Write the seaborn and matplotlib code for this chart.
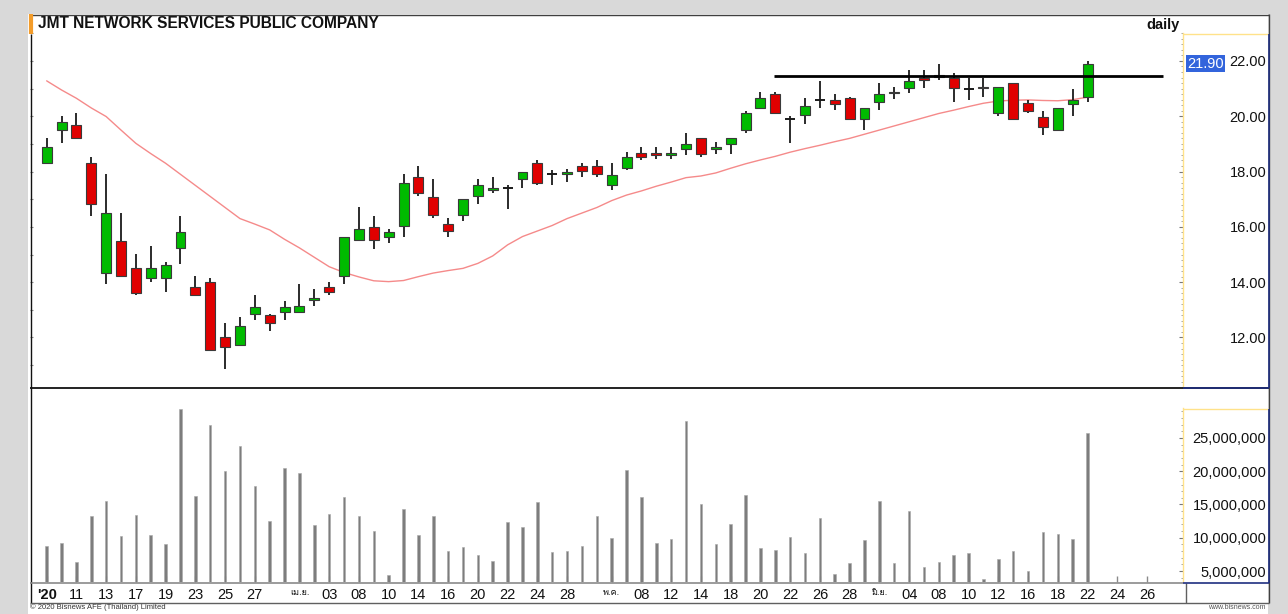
import numpy as np
import pandas as pd
import matplotlib
matplotlib.use("Agg")
import matplotlib.pyplot as plt
import seaborn as sns
from matplotlib.patches import Rectangle
from matplotlib.lines import Line2D
from matplotlib import font_manager as fm
from matplotlib import transforms
from matplotlib.ticker import FixedLocator, MultipleLocator, FuncFormatter, NullFormatter

# ---------------- data ----------------
opens = [18.30, 19.50, 19.70, 18.30, 14.34, 15.50, 14.52, 14.16, 14.16, 15.24,
         13.82, 14.02, 12.03, 11.73, 12.84, 12.81, 12.93, 12.93, 13.36, 13.82,
         14.24, 15.52, 16.01, 15.62, 16.03, 17.82, 17.09, 16.11, 16.43, 17.13,
         17.34, 17.40, 17.72, 18.30, 17.91, 17.91, 18.20, 18.20, 17.53, 18.14,
         18.68, 18.68, 18.61, 18.82, 19.20, 18.82, 19.01, 19.50, 20.31, 20.81,
         19.89, 20.04, 20.59, 20.59, 20.67, 19.90, 20.53, 20.83, 21.01, 21.37,
         21.48, 21.37, 20.98, 21.07, 20.11, 21.19, 20.49, 19.99, 19.50, 20.43,
         20.69]
highs = [19.20, 20.00, 20.10, 18.52, 17.90, 16.50, 15.02, 15.32, 14.72, 16.41,
         14.24, 14.14, 12.54, 12.73, 13.54, 12.84, 13.33, 13.93, 13.74, 14.02,
         15.64, 16.71, 16.39, 15.91, 17.91, 18.20, 17.72, 16.31, 17.00, 17.72,
         17.82, 17.52, 17.99, 18.42, 18.06, 18.11, 18.30, 18.42, 18.30, 18.69,
         18.88, 18.88, 18.88, 19.39, 19.20, 19.08, 19.20, 20.19, 20.89, 20.89,
         20.01, 20.67, 21.29, 20.80, 20.70, 20.29, 21.19, 21.07, 21.67, 21.67,
         21.88, 21.58, 21.40, 21.40, 21.07, 21.19, 20.59, 20.19, 20.29, 20.98,
         22.00]
lows = [18.30, 19.02, 19.20, 16.40, 13.93, 14.22, 13.54, 14.02, 13.63, 14.65,
        13.54, 11.55, 10.85, 11.70, 12.63, 12.25, 12.63, 12.90, 13.14, 13.54,
        13.94, 15.50, 15.20, 15.43, 15.62, 17.12, 16.33, 15.62, 16.22, 16.82,
        17.22, 16.64, 17.42, 17.53, 17.53, 17.63, 17.82, 17.82, 17.33, 18.06,
        18.42, 18.44, 18.44, 18.60, 18.54, 18.63, 18.63, 19.41, 20.31, 20.13,
        19.02, 19.72, 20.31, 20.23, 19.88, 19.50, 20.23, 20.61, 20.83, 21.01,
        21.31, 20.51, 20.59, 20.71, 20.02, 19.90, 20.11, 19.32, 19.50, 20.02,
        20.51]
closes = [18.90, 19.80, 19.22, 16.82, 16.50, 14.24, 13.62, 14.52, 14.62, 15.82,
          13.54, 11.55, 11.65, 12.42, 13.11, 12.54, 13.11, 13.14, 13.42, 13.66,
          15.62, 15.91, 15.52, 15.82, 17.60, 17.22, 16.43, 15.85, 17.00, 17.50,
          17.40, 17.40, 17.99, 17.60, 17.91, 17.99, 18.02, 17.91, 17.89, 18.52,
          18.54, 18.61, 18.68, 18.99, 18.63, 18.90, 19.20, 20.11, 20.67, 20.13,
          19.89, 20.38, 20.59, 20.43, 19.90, 20.29, 20.80, 20.89, 21.29, 21.31,
          21.43, 21.01, 20.98, 21.01, 21.07, 19.90, 20.20, 19.62, 20.29, 20.59,
          21.90]
volumes_m = [8.80, 9.17, 6.40, 13.27, 15.57, 10.26, 13.42, 10.41, 9.02, 29.32,
             16.23, 26.95, 20.04, 23.84, 17.78, 12.56, 20.53, 19.69, 11.87, 13.57,
             16.17, 13.32, 11.02, 4.40, 14.32, 10.41, 13.32, 8.01, 8.61, 7.41,
             6.50, 12.37, 11.62, 15.38, 7.90, 8.01, 8.76, 13.32, 9.92, 20.14,
             16.08, 9.26, 9.86, 27.60, 15.08, 9.02, 12.07, 16.43, 8.41, 8.20,
             10.07, 7.71, 12.92, 4.50, 6.16, 9.66, 15.48, 6.16, 14.02, 5.56,
             6.31, 7.41, 7.71, 3.75, 6.80, 8.01, 4.95, 10.91, 10.52, 9.77,
             25.80]
ma_line = [21.28, 20.95, 20.65, 20.30, 19.99, 19.50, 19.02, 18.65, 18.30, 17.90,
           17.50, 17.10, 16.70, 16.30, 16.10, 15.89, 15.55, 15.24, 14.90, 14.56,
           14.35, 14.19, 14.05, 14.02, 14.06, 14.20, 14.33, 14.42, 14.50, 14.68,
           14.95, 15.35, 15.65, 15.85, 16.05, 16.30, 16.50, 16.70, 16.95, 17.15,
           17.30, 17.47, 17.62, 17.78, 17.84, 17.95, 18.12, 18.28, 18.42, 18.55,
           18.70, 18.83, 18.95, 19.08, 19.20, 19.35, 19.50, 19.65, 19.80, 19.95,
           20.10, 20.22, 20.35, 20.47, 20.55, 20.58, 20.59, 20.57, 20.56, 20.60,
           20.69]
tick_index = [0, 2, 4, 6, 8, 10, 12, 14, 17, 19, 21, 23, 25, 27, 29, 31, 33, 35,
              38, 40, 42, 44, 46, 48, 50, 52, 54, 56, 58, 60, 62, 64, 66, 68, 70,
              72, 74]
tick_labels = ["'20", "11", "13", "17", "19", "23", "25", "27", "เม.ย.", "03", "08",
               "10", "14", "16", "20", "22", "24", "28", "พ.ค.", "08", "12", "14",
               "18", "20", "22", "26", "28", "มิ.ย.", "04", "08", "10", "12", "16",
               "18", "22", "24", "26"]
price_ticks = [12, 14, 16, 18, 20, 22]
volume_ticks = [5e6, 10e6, 15e6, 20e6, 25e6]
resistance_level = 21.45
resistance_start = 48.9
resistance_end = 75.1
last_price = 21.90
title = "JMT NETWORK SERVICES PUBLIC COMPANY"

# ---------------- style ----------------
sns.set_theme(style="white")
plt.rcParams["font.family"] = ["Liberation Sans", "DejaVu Sans"]


def find_font_with(ch):
    from matplotlib.ft2font import FT2Font
    for f in fm.fontManager.ttflist:
        try:
            font = FT2Font(f.fname)
            if ord(ch) in font.get_charmap():
                return f.name
        except Exception:
            pass
    return None


thai_font = find_font_with("เ")

W, H = 1288, 614
fig = plt.figure(figsize=(W / 100, H / 100), dpi=100, facecolor="#d9d9d9")


def fx(x):
    return x / W


def fy(y):
    return 1 - y / H


def fline(x0, y0, x1, y1, color, lw, z=5):
    fig.add_artist(Line2D([fx(x0), fx(x1)], [fy(y0), fy(y1)], transform=fig.transFigure,
                          color=color, lw=lw, zorder=z, solid_capstyle="butt"))


fig.add_artist(Rectangle((fx(28), fy(614)), fx(1268) - fx(28), fy(14) - fy(614),
                         transform=fig.transFigure, facecolor="white", edgecolor="none", zorder=-5))

axp = fig.add_axes([fx(30), fy(387), fx(1183) - fx(30), fy(33) - fy(387)])
axl = axp.twinx()  # only used for the faint tick dots along the left edge
axv = fig.add_axes([fx(30), fy(582), fx(1183) - fx(30), fy(408) - fy(582)])

idx = np.arange(len(closes))
df = pd.DataFrame({"i": idx, "open": opens, "high": highs, "low": lows, "close": closes,
                   "vol": np.array(volumes_m) * 1e6, "ma": ma_line})

# ---------------- price pane ----------------
sns.lineplot(data=df, x="i", y="ma", ax=axp, color="#f58a8a", linewidth=1.0, zorder=1)

axp.vlines(df["i"], df["low"], df["high"], color="#1a1a1a", lw=1.3, zorder=2)
body_w = 0.67
for _, r in df.iterrows():
    o, c = r["open"], r["close"]
    if abs(c - o) < 1e-6:
        axp.hlines(c, r["i"] - body_w / 2, r["i"] + body_w / 2, color="#1a1a1a", lw=1.4, zorder=3)
        continue
    col = "#00bb00" if c > o else "#e00000"
    axp.bar(r["i"], abs(c - o), bottom=min(o, c), width=body_w, color=col,
            edgecolor="#3a3a3a", linewidth=0.8, zorder=3)

axp.hlines(resistance_level, resistance_start, resistance_end, color="black", lw=2.0, zorder=4)

axp.set_xlim(-1.12, 76.42)
axp.set_ylim(10.21, 23.01)
axp.set_xlabel("")
axp.set_ylabel("")
axp.set_xticks([])
axp.yaxis.tick_right()
axp.yaxis.set_label_position("right")
axp.set_yticks(price_ticks)
axp.yaxis.set_minor_locator(MultipleLocator(0.2))
axp.yaxis.set_major_formatter(FuncFormatter(lambda v, p: f"{v:.2f}"))
axp.tick_params(axis="y", which="major", direction="in", length=3, width=0.8, color="#777777",
                right=True, left=False, labelright=True, labelleft=False, pad=60,
                labelsize=10.5, labelcolor="#111111")
axp.tick_params(axis="y", which="minor", direction="in", length=1.5, width=0.6, color="#999999",
                right=True, left=False)
for t in axp.get_yticklabels():
    t.set_horizontalalignment("right")
for s in ["top", "left", "bottom"]:
    axp.spines[s].set_visible(False)
axp.spines["right"].set_color("#ffe28a")
axp.spines["right"].set_linewidth(1.0)

axl.set_ylim(axp.get_ylim())
axl.yaxis.tick_left()
axl.yaxis.set_major_locator(MultipleLocator(1.0))
axl.yaxis.set_major_formatter(NullFormatter())
axl.set_xticks([])
axl.tick_params(axis="y", which="both", direction="in", length=2, width=0.8, color="#8a8a8a",
                left=True, right=False, labelleft=False, labelright=False)
for s in axl.spines.values():
    s.set_visible(False)

# price tag
blend = transforms.blended_transform_factory(fig.transFigure, axp.transData)
axp.text(fx(1205.5), last_price, f"{last_price:.2f}", transform=blend, ha="center", va="center",
         color="white", fontsize=10.5, clip_on=False, zorder=10,
         bbox=dict(boxstyle="square,pad=0.1", facecolor="#3264dc", edgecolor="none"))

# ---------------- volume pane ----------------
sns.barplot(data=df, x="i", y="vol", ax=axv, native_scale=True, width=0.17, color="#7d7d7d",
            saturation=1, errorbar=None, edgecolor="#a8a8a8", linewidth=0.4)
axv.set_xlim(-1.12, 76.42)
axv.set_ylim(3.35e6, 29.5e6)
axv.set_xlabel("")
axv.set_ylabel("")
axv.yaxis.tick_right()
axv.set_yticks(volume_ticks)
axv.yaxis.set_minor_locator(MultipleLocator(1e6))
axv.yaxis.set_major_formatter(FuncFormatter(lambda v, p: f"{v:,.0f}"))
axv.tick_params(axis="y", which="major", direction="in", length=3, width=0.8, color="#777777",
                right=True, left=False, labelright=True, labelleft=False, pad=60,
                labelsize=10.5, labelcolor="#111111")
axv.tick_params(axis="y", which="minor", direction="in", length=1.5, width=0.6, color="#999999",
                right=True, left=False)
for t in axv.get_yticklabels():
    t.set_horizontalalignment("right")

axv.xaxis.set_major_locator(FixedLocator(tick_index))
axv.set_xticklabels(tick_labels)
axv.tick_params(axis="x", which="major", direction="in", length=4, width=1.0, color="#8a8a8a",
                pad=4, labelsize=10.5, labelcolor="#111111", bottom=True)
for t in axv.get_xticklabels():
    txt = t.get_text()
    if any(0x0E00 < ord(ch) < 0x0E80 for ch in txt):
        t.set_fontsize(6.5)
        if thai_font:
            t.set_family([thai_font, "Liberation Sans", "DejaVu Sans"])
    if txt == "'20":
        t.set_fontweight("bold")
for s in ["top", "left", "bottom"]:
    axv.spines[s].set_visible(False)
axv.spines["right"].set_color("#ffe28a")
axv.spines["right"].set_linewidth(1.0)

# ---------------- frame lines ----------------
fline(29, 14.5, 1268.5, 14.5, "#404040", 1.0)
fline(31, 14, 31, 34, "#f39c2a", 3.0, z=6)
fline(30.5, 34, 30.5, 602.5, "#111111", 1.0)
fline(1268.5, 14, 1268.5, 603, "#404040", 1.0)
fline(30, 387.5, 1268.5, 387.5, "#111111", 1.3)
fline(1183, 33.5, 1268, 33.5, "#ffe28a", 1.0)
fline(1183, 408.5, 1268, 408.5, "#ffe28a", 1.0)
fline(1268.5, 33.5, 1268.5, 387.5, "#1f2f80", 1.2, z=6)
fline(1183, 387.5, 1268.5, 387.5, "#1f2f80", 1.2, z=6)
fline(1268.5, 408.5, 1268.5, 582.5, "#1f2f80", 1.2, z=6)
fline(1183, 582.5, 1268.5, 582.5, "#1f2f80", 1.2, z=6)
fline(30, 582.5, 1183, 582.5, "#8a8a8a", 1.2)
fline(30, 602.5, 1268.5, 602.5, "#606060", 1.0)
fline(1185.5, 582.5, 1185.5, 602.5, "#606060", 1.0)

# ---------------- texts ----------------
fig.text(fx(38), fy(24), title, ha="left", va="center", fontsize=11.2, fontweight="bold",
         color="#111111")
fig.text(fx(1180), fy(25), "daily", ha="right", va="center", fontsize=10.5, fontweight="bold",
         color="#111111")
fig.text(fx(30), fy(607.5), "© 2020 Bisnews AFE (Thailand) Limited", ha="left", va="center",
         fontsize=5.5, color="#333333")
fig.text(fx(1266), fy(607.5), "www.bisnews.com", ha="right", va="center", fontsize=5,
         color="#555555")

fig.savefig("out.png", dpi=100, facecolor=fig.get_facecolor())
